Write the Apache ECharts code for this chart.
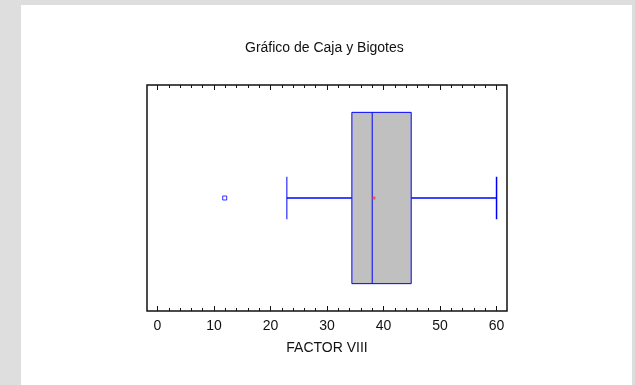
<!DOCTYPE html>
<html>
<head>
<meta charset="utf-8">
<script src="https://cdn.jsdelivr.net/npm/echarts@6/dist/echarts.min.js"></script>
<style>
  html, body { margin: 0; padding: 0; background: #dedede; }
  #chart { width: 635px; height: 385px; }
</style>
</head>
<body>
<div id="chart"></div>
<script>
// Box-and-whisker summary of FACTOR VIII
const categories = ['FACTOR VIII'];
const boxStats = [22.9, 34.4, 38.0, 44.9, 60.0]; // min, Q1, median, Q3, max
const meanValues = [38.3];
const outliers = [11.9];
const xMajorTicks = [0, 10, 20, 30, 40, 50, 60];
const xMinorTicks = [2, 4, 6, 8, 12, 14, 16, 18, 22, 24, 26, 28, 32, 34, 36, 38,
                     42, 44, 46, 48, 52, 54, 56, 58];

const FONT = '"Liberation Sans", Arial, sans-serif';
const BLUE = '#0000ff';
const X_MIN = -1.85, X_MAX = 61.85;

const chart = echarts.init(document.getElementById('chart'), null, { renderer: 'canvas' });

function tickAxis(position, values, len, withLabels) {
  return {
    type: 'value',
    position: position,
    min: X_MIN,
    max: X_MAX,
    gridIndex: 0,
    axisLine: { show: false },
    splitLine: { show: false },
    axisTick: {
      show: true, inside: true, length: len,
      customValues: values,
      lineStyle: { color: '#111', width: 1 }
    },
    axisLabel: withLabels ? {
      show: true, customValues: values, margin: 8,
      color: '#111', fontSize: 14, fontFamily: FONT
    } : { show: false }
  };
}

const bottomMajor = tickAxis('bottom', xMajorTicks, 5, true);
bottomMajor.name = categories[0];
bottomMajor.nameLocation = 'middle';
bottomMajor.nameGap = 30;
bottomMajor.nameTextStyle = { color: '#111', fontSize: 14, fontFamily: FONT };

const option = {
  animation: false,
  backgroundColor: '#dedede',
  graphic: [{
    type: 'rect', z: -10, silent: true,
    shape: { x: 21, y: 5, width: 611, height: 380 },
    style: { fill: '#ffffff' }
  }],
  title: {
    text: 'Gráfico de Caja y Bigotes',
    left: 245, top: 41, padding: 0,
    textStyle: { color: '#111', fontSize: 14, fontWeight: 'normal', fontFamily: FONT }
  },
  grid: {
    left: 147, top: 85, width: 360, height: 226,
    show: true, borderColor: '#111', borderWidth: 1.5,
    backgroundColor: 'transparent',
    outerBoundsMode: 'none'
  },
  xAxis: [
    bottomMajor,
    tickAxis('bottom', xMinorTicks, 3, false),
    tickAxis('top', xMajorTicks, 5, false),
    tickAxis('top', xMinorTicks, 3, false)
  ],
  yAxis: { type: 'value', min: 0, max: 1, show: false },
  series: [
    {
      type: 'custom',
      xAxisIndex: 0,
      data: [boxStats],
      renderItem: function (params, api) {
        const lo = api.value(0), q1 = api.value(1), med = api.value(2),
              q3 = api.value(3), hi = api.value(4);
        const yc = 0.5, boxHalf = 0.379, capHalf = 0.094;
        const pTop = api.coord([q1, yc + boxHalf]);
        const pBot = api.coord([q3, yc - boxHalf]);
        const mid = api.coord([lo, yc])[1];
        const xLo = api.coord([lo, yc])[0], xHi = api.coord([hi, yc])[0];
        const xQ1 = pTop[0], xQ3 = pBot[0], xMed = api.coord([med, yc])[0];
        const capTop = api.coord([lo, yc + capHalf])[1];
        const capBot = api.coord([lo, yc - capHalf])[1];
        const line = { stroke: BLUE, lineWidth: 1 };
        const whisker = { stroke: BLUE, lineWidth: 1.5 };
        return {
          type: 'group',
          children: [
            { type: 'line', shape: { x1: xLo, y1: mid, x2: xQ1, y2: mid }, style: whisker },
            { type: 'line', shape: { x1: xQ3, y1: mid, x2: xHi, y2: mid }, style: whisker },
            { type: 'line', shape: { x1: xLo, y1: capTop, x2: xLo, y2: capBot }, style: line },
            { type: 'line', shape: { x1: xHi, y1: capTop, x2: xHi, y2: capBot }, style: whisker },
            {
              type: 'rect',
              shape: { x: xQ1, y: pTop[1], width: xQ3 - xQ1, height: pBot[1] - pTop[1] },
              style: { fill: '#c0c0c0', stroke: BLUE, lineWidth: 1 }
            },
            { type: 'line', shape: { x1: xMed, y1: pTop[1], x2: xMed, y2: pBot[1] }, style: line }
          ]
        };
      },
      z: 2
    },
    {
      type: 'scatter',
      xAxisIndex: 0,
      data: outliers.map(v => [v, 0.5]),
      symbol: 'rect',
      symbolSize: 4,
      itemStyle: { color: '#ffffff', borderColor: BLUE, borderWidth: 1 },
      z: 3
    },
    {
      type: 'scatter',
      xAxisIndex: 0,
      data: meanValues.map(v => [v, 0.5]),
      symbol: 'rect',
      symbolSize: 3,
      itemStyle: { color: '#ff3a3a' },
      z: 4
    }
  ]
};

chart.setOption(option);
</script>
</body>
</html>
